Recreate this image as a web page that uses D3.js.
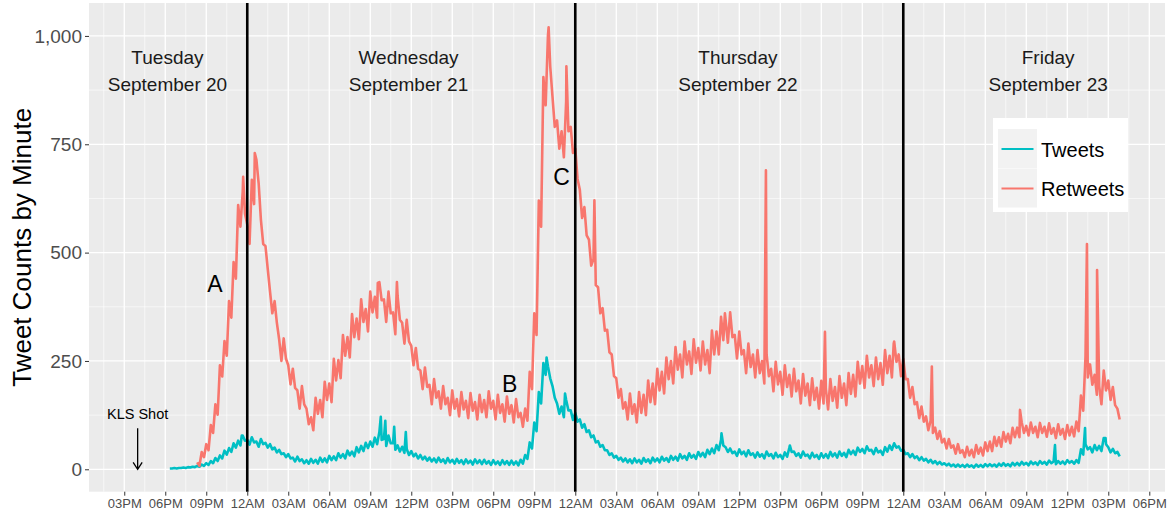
<!DOCTYPE html>
<html><head><meta charset="utf-8">
<script src="https://cdn.jsdelivr.net/npm/d3@7"></script>
<style>
body{margin:0;background:#fff;}
text{font-family:"Liberation Sans",Arial,Helvetica,sans-serif;}
</style>
</head><body>
<svg id="chart" width="1167" height="512"></svg>
<script>
// Time in hours since Tuesday Sept 20, 03PM
const tickHours = [0,3,6,9,12,15,18,21,24,27,30,33,36,39,42,45,48,51,54,57,60,63,66,69,72,75];
const tickLabels = ["03PM","06PM","09PM","12AM","03AM","06AM","09AM","12PM","03PM","06PM","09PM",
  "12AM","03AM","06AM","09AM","12PM","03PM","06PM","09PM","12AM","03AM","06AM","09AM","12PM","03PM","06PM"];
const yTicks = [0,250,500,750,1000];
const midnights = [9,33,57];
const stepHours = 1/6; // 10-minute samples (alternating high / low of the minute band)

const tweetStart = 3 + 1/3;
const tweetValues = [
  2,2,3,2,3,3, 4,3,5,4,6,5, 8,6,11,8,14,10, 19,14,26,19,32,25, 43,34,49,40,60,50,
  66,55,78,66,68,57, 74,62,64,52,70,58, 61,50,58,46,50,39, 45,35,37,28,35,25, 27,18,29,19,23,14,
  21,13,24,15,22,13, 27,17,25,16,31,21, 30,21,37,27,35,25, 43,32,41,30,51,39, 54,42,61,49,64,52,
  73,58,86,68,70,54, 78,60,60,45,55,41, 52,38,47,33,42,30, 36,25,33,23,29,20, 27,18,25,16,27,17,
  23,14,26,16,22,13, 24,15,21,12,23,14, 20,11,23,14,21,12, 22,13,19,10,21,12, 18,10,21,12,19,10,
  20,11,18,9,22,13, 33,24,62,48,108,88, 178,152,245,218,238,210, 192,165,152,128,145,120,
  160,136,136,114,130,110, 115,96,104,86,90,74, 78,62,65,52,56,44, 44,33,37,27,31,22,
  27,18,25,16,23,14, 25,16,22,13,26,17, 23,14,27,18,25,16, 29,20,26,17,31,22, 29,20,35,25,31,22,
  37,27,33,24,40,30, 38,28,45,35,48,37, 56,44,68,55,51,40, 48,37,41,31,46,35, 41,30,44,33,37,27,
  39,29,35,25,41,31, 35,25,38,28,33,24, 39,29,50,40,41,31, 37,27,41,31,34,25, 38,28,33,24,37,27,
  35,26,40,30,37,27, 41,31,38,28,45,35, 43,33,50,40,47,37, 53,43,45,35,49,39, 43,33,51,41,55,45,
  60,50,53,43,45,35, 37,28,35,26,30,21, 28,20,24,16,22,14, 19,12,17,11,14,9, 13,7,11,6,11,6,
  10,5,11,6,9,4, 11,6,10,5,12,7, 12,7,11,6,13,8, 14,8,12,7,15,9, 15,9,17,11,15,9,
  18,12,16,10,19,13, 17,11,20,14,18,12, 19,13,18,12,21,15, 19,13,21,15,46,34, 58,46,51,39,56,44,
  54,42,72,58,51,39, 47,37,40,30
];
const tweetSpikeHours = [8.6,18.77,19.1,19.75,20.6,30.9,32.25,43.7,48.7,68.1,70.3,71.8];
const tweetSpikeValues = [78,121,112,98,86,258,175,83,55,56,95,72];

const retweetStart = 5 + 1/3;
const retweetValues = [
  16,8,40,28,58,44, 102,84,150,126,240,214, 296,262,388,350,478,440, 610,560,640,590,565,520,
  668,612,715,660,575,520, 515,462,410,360,388,338, 300,250,302,255,240,196, 232,188,182,140,192,150,
  140,104,120,90,165,128, 160,120,202,160,198,155, 255,205,252,210,310,262, 305,258,358,305,348,300,
  392,340,370,318,410,362, 398,350,432,390,392,340, 410,360,362,312,400,345, 338,290,345,295,285,240,
  280,232,228,185,235,190, 195,150,208,165,180,140, 192,150,165,125,182,140, 162,122,178,138,158,118,
  176,135,155,115,172,132, 160,120,180,140,158,115, 172,130,150,110,168,128, 148,108,162,120,130,98,
  140,112,225,185,360,310, 620,560,905,840,1000,930, 860,790,805,740,780,720, 850,780,790,730,740,670,
  645,580,605,540,530,470, 485,425,420,360,372,320, 322,270,265,215,210,165, 185,140,155,115,175,128,
  150,108,178,130,172,125, 205,155,198,150,232,182, 225,175,258,208,250,198, 282,230,265,212,295,242,
  272,220,300,246,280,228, 295,242,275,222,320,265, 318,265,352,298,345,292, 362,305,310,256,318,265,
  275,222,290,236,265,212, 275,222,250,198,265,215, 232,180,248,196,225,172, 240,190,218,168,232,180,
  205,152,220,170,198,148, 210,160,188,140,204,152, 186,138,208,158,190,142, 215,165,198,148,222,174,
  218,168,248,198,238,188, 262,212,240,192,258,208, 245,195,275,222,262,212, 295,248,265,215,255,208,
  208,165,190,150,155,118, 145,110,122,90,112,84, 96,70,88,62,70,48, 70,50,55,36,58,38,
  44,28,52,32,45,28, 56,36,50,32,62,42, 64,42,75,54,74,52, 86,64,82,60,96,74, 96,74,108,84,100,78,
  108,84,98,74,107,84, 98,75,106,82,95,72, 104,80,93,70,102,78, 98,76,110,88,170,135,
  260,212,242,195,218,172, 192,150,228,182,205,160, 190,148,140,115
];
const retweetSpikeHours = [8.7,9.55,18.55,19.95,31.05,32.35,34.4,43.95,46.95,51.27,56.3,59.09,65.54,70.44,71.18];
const retweetSpikeValues = [675,730,430,432,1020,930,621,360,690,317,290,237,137,520,460];

const seriesNames = ["Tweets","Retweets"];
const seriesColors = ["#00BFC4","#F8766D"];

const dayHours = [3.16,20.8,44.9,67.6];
const dayNames = ["Tuesday","Wednesday","Thursday","Friday"];
const dayDates = ["September 20","September 21","September 22","September 23"];
const dayValue = 936;

const noteLabels = ["A","B","C"];
const noteHours = [6.64,28.2,32.0];
const noteValues = [410,178,656];
const shotHour = 0.98;

// ---------------------------------------------------------------
const svg = d3.select("#chart");
const P = {left:89, right:1165, top:3, bottom:491.7};
const x = d3.scaleLinear().domain([-2.58, 76.15]).range([P.left, P.right]);
const y = d3.scaleLinear().domain([-51.7, 1076]).range([P.bottom, P.top]);

svg.append("rect").attr("x",P.left).attr("y",P.top)
  .attr("width",P.right-P.left).attr("height",P.bottom-P.top).attr("fill","#EBEBEB");

// minor grid
const minorX = [];
for (let i=0;i<tickHours.length+1;i++){ const h=(i-0.5)*3; if (x(h)>P.left && x(h)<P.right) minorX.push(h); }
const minorY = [-125,125,375,625,875,1125].filter(v=>y(v)>P.top && y(v)<P.bottom);
svg.append("g").selectAll("line").data(minorX).join("line")
  .attr("x1",d=>x(d)).attr("x2",d=>x(d)).attr("y1",P.top).attr("y2",P.bottom)
  .attr("stroke","#fff").attr("stroke-width",0.6);
svg.append("g").selectAll("line").data(minorY).join("line")
  .attr("y1",d=>y(d)).attr("y2",d=>y(d)).attr("x1",P.left).attr("x2",P.right)
  .attr("stroke","#fff").attr("stroke-width",0.6);
// major grid
svg.append("g").selectAll("line").data(tickHours).join("line")
  .attr("x1",d=>x(d)).attr("x2",d=>x(d)).attr("y1",P.top).attr("y2",P.bottom)
  .attr("stroke","#fff").attr("stroke-width",1.3);
svg.append("g").selectAll("line").data(yTicks).join("line")
  .attr("y1",d=>y(d)).attr("y2",d=>y(d)).attr("x1",P.left).attr("x2",P.right)
  .attr("stroke","#fff").attr("stroke-width",1.3);

// clip
svg.append("clipPath").attr("id","clip").append("rect")
  .attr("x",P.left).attr("y",P.top).attr("width",P.right-P.left).attr("height",P.bottom-P.top);

function build(start, vals, spH, spV){
  const pts = vals.map((v,i)=>({t:start+i*stepHours, v:v}));
  spH.forEach((h,i)=>pts.push({t:h, v:spV[i]}));
  pts.sort((a,b)=>a.t-b.t);
  return pts;
}
const series = [
  build(tweetStart, tweetValues, tweetSpikeHours, tweetSpikeValues),
  build(retweetStart, retweetValues, retweetSpikeHours, retweetSpikeValues)
];
const line = d3.line().x(d=>x(d.t)).y(d=>y(d.v));
const gData = svg.append("g").attr("clip-path","url(#clip)");
series.forEach((s,i)=>{
  gData.append("path").datum(s).attr("d",line).attr("fill","none")
    .attr("stroke",seriesColors[i]).attr("stroke-width",2.6).attr("stroke-linejoin","round");
});

// midnight lines
svg.append("g").selectAll("line").data(midnights).join("line")
  .attr("x1",d=>x(d)).attr("x2",d=>x(d)).attr("y1",P.top).attr("y2",P.bottom)
  .attr("stroke","#000").attr("stroke-width",2.6);

// axes
const xAxis = svg.append("g").attr("transform",`translate(0,${P.bottom})`)
  .call(d3.axisBottom(x).tickValues(tickHours).tickFormat((d,i)=>tickLabels[i]).tickSize(4).tickPadding(3));
xAxis.select(".domain").remove();
xAxis.selectAll("line").attr("stroke","#333").attr("stroke-width",1);
xAxis.selectAll("text").attr("font-size",13).attr("fill","#4D4D4D")
  .attr("font-family","Liberation Sans, Arial, sans-serif");

const yAxis = svg.append("g").attr("transform",`translate(${P.left},0)`)
  .call(d3.axisLeft(y).tickValues(yTicks).tickFormat(d3.format(",")).tickSize(4).tickPadding(3));
yAxis.select(".domain").remove();
yAxis.selectAll("line").attr("stroke","#333").attr("stroke-width",1);
yAxis.selectAll("text").attr("font-size",19).attr("fill","#4D4D4D")
  .attr("font-family","Liberation Sans, Arial, sans-serif");

svg.append("text").attr("transform",`translate(31,${(P.top+P.bottom)/2}) rotate(-90)`)
  .attr("text-anchor","middle").attr("font-size",26).attr("fill","#000")
  .text("Tweet Counts by Minute");

// day labels
const gDays = svg.append("g").attr("font-size",19).attr("fill","#1a1a1a").attr("text-anchor","middle");
dayNames.forEach((n,i)=>{
  gDays.append("text").attr("x",x(dayHours[i])).attr("y",y(dayValue)).text(n);
  gDays.append("text").attr("x",x(dayHours[i])).attr("y",y(dayValue)+27).text(dayDates[i]);
});

// notes
noteLabels.forEach((n,i)=>{
  svg.append("text").attr("x",x(noteHours[i])).attr("y",y(noteValues[i]))
    .attr("text-anchor","middle").attr("font-size",23).attr("fill","#000").text(n);
});

// KLS shot
svg.append("text").attr("x",x(shotHour)).attr("y",y(0)-50).attr("text-anchor","middle")
  .attr("font-size",14.5).attr("fill","#000").text("KLS Shot");
const ax = x(shotHour), ay = y(0);
svg.append("path").attr("d",`M${ax},${ay-41}L${ax},${ay}M${ax-4.5},${ay-7}L${ax},${ay}L${ax+4.5},${ay-7}`)
  .attr("fill","none").attr("stroke","#000").attr("stroke-width",1.3);

// legend
const lg = svg.append("g");
lg.append("rect").attr("x",993).attr("y",118).attr("width",135).attr("height",94).attr("fill","#fff");
seriesNames.forEach((n,i)=>{
  const ky = 129 + i*39.5;
  lg.append("rect").attr("x",998).attr("y",ky).attr("width",39).attr("height",39).attr("fill","#F2F2F2");
  lg.append("line").attr("x1",1001.5).attr("x2",1033.5).attr("y1",ky+20).attr("y2",ky+20)
    .attr("stroke",seriesColors[i]).attr("stroke-width",2.2);
  lg.append("text").attr("x",1041).attr("y",ky+27.5).attr("font-size",20).attr("fill","#000").text(n);
});
</script>
</body></html>
